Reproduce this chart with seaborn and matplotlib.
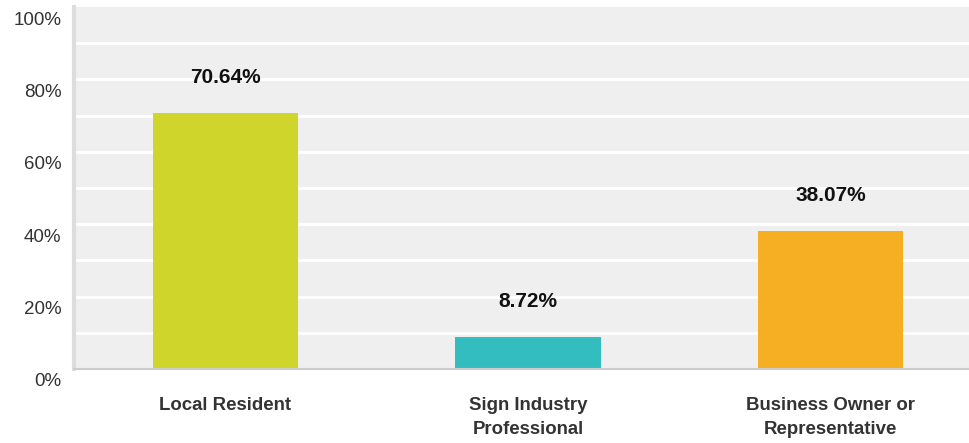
import matplotlib
matplotlib.use("Agg")
import matplotlib.pyplot as plt
import matplotlib.transforms as mtransforms
import seaborn as sns
import pandas as pd

categories = ["Local Resident", "Sign Industry\nProfessional", "Business Owner or\nRepresentative"]
values = [70.64, 8.72, 38.07]
colors = ["#cfd52a", "#33bdbf", "#f6ae22"]
yticks = [0, 20, 40, 60, 80, 100]
ytick_labels = ["0%", "20%", "40%", "60%", "80%", "100%"]

df = pd.DataFrame({"category": categories, "value": values})

sns.set_theme(style="white")
plt.rcParams["font.family"] = ["Liberation Sans", "DejaVu Sans"]

W, H = 969, 443
fig = plt.figure(figsize=(W / 100, H / 100), dpi=100)
left_px, right_px, top_px, bottom_px = 74, 982, 7, 369
ax = fig.add_axes([left_px / W, 1 - bottom_px / H, (right_px - left_px) / W, (bottom_px - top_px) / H])
ax.set_facecolor("#efefef")

sns.barplot(data=df, x="category", y="value", hue="category", palette=colors,
            width=0.48, saturation=1, legend=False, linewidth=0, edgecolor="none", ax=ax)

ax.set_xlim(-0.5, 2.5)
ax.set_ylim(0, 100)
for y in range(10, 100, 10):
    ax.axhline(y, color="white", lw=2, zorder=0.5)
ax.set_axisbelow(True)

ax.set_yticks(yticks)
ax.set_yticklabels(ytick_labels, fontsize=13.5, color="#333333")
ax.tick_params(axis="y", length=0, pad=9)
offset = mtransforms.ScaledTranslation(0, -11 / 100, fig.dpi_scale_trans)
for lab in ax.get_yticklabels():
    lab.set_transform(lab.get_transform() + offset)

ax.set_xticks(range(len(categories)))
ax.set_xticklabels(categories, fontsize=13.4, fontweight="bold", color="#333333", linespacing=1.55)
ax.tick_params(axis="x", length=0, pad=20)
ax.set_xlabel("")
ax.set_ylabel("")

for s in ["top", "right"]:
    ax.spines[s].set_visible(False)
ax.spines["left"].set_color("#dddddd")
ax.spines["left"].set_linewidth(3)
ax.spines["bottom"].set_color("#cccccc")
ax.spines["bottom"].set_linewidth(1.5)

for i, v in enumerate(values):
    ax.annotate(f"{v:.2f}%", xy=(i, v), xytext=(0, 36), textcoords="offset pixels",
                ha="center", va="center", fontsize=15, fontweight="bold", color="#111111")

fig.savefig("out.png", dpi=100)
